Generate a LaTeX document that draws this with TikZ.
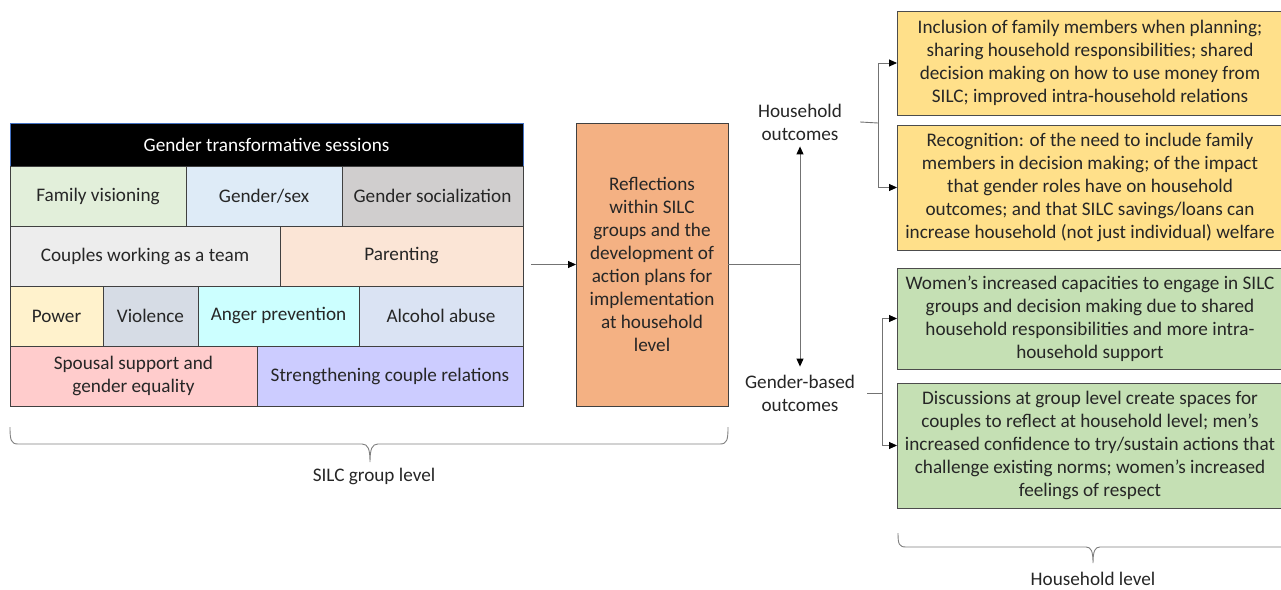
\documentclass[tikz,border=0pt]{standalone}
\usepackage{fontspec}
\setmainfont{Carlito}
\usetikzlibrary{arrows.meta}

\definecolor{famgreen}{HTML}{E2EFDA}
\definecolor{sexblue}{HTML}{DEEBF7}
\definecolor{socgray}{HTML}{D0CECE}
\definecolor{teamgray}{HTML}{EDEDED}
\definecolor{parpeach}{HTML}{FBE5D6}
\definecolor{powyellow}{HTML}{FFF2CC}
\definecolor{violgray}{HTML}{D6DCE5}
\definecolor{angcyan}{HTML}{CCFFFF}
\definecolor{alcblue}{HTML}{DAE3F3}
\definecolor{spopink}{HTML}{FFCCCC}
\definecolor{strlav}{HTML}{CCCCFF}
\definecolor{reforange}{HTML}{F4B183}
\definecolor{hhyellow}{HTML}{FFE08A}
\definecolor{gbgreen}{HTML}{C5E0B4}
\definecolor{headblue}{HTML}{4472C4}
\definecolor{inkgray}{HTML}{262626}

\begin{document}
\begin{tikzpicture}[x=1pt,y=-1pt,
  font=\fontsize{19.2}{23}\selectfont,
  >={Triangle[length=8pt,width=7pt,color=black]},
  cell/.style={draw=black!75, line width=0.8pt, anchor=north west, inner sep=0pt,
    outer sep=0pt, align=center, text=inkgray, minimum height=60pt},
  outbox/.style={draw=black!70, line width=1pt, anchor=north west, inner sep=0pt,
    outer sep=0pt, align=center, text=inkgray, minimum width=386pt},
  lab/.style={align=center, text=inkgray, inner sep=0pt},
  link/.style={draw=black!55, line width=0.9pt},
  lvl/.style={draw=black!50, line width=0.9pt}]
  \useasboundingbox (0,0) rectangle (1281,589);

  % session grid
  \node[cell, fill=black, draw=headblue, text=white, minimum width=513pt, minimum height=43pt]
    (head) at (10,123) {Gender transformative sessions};
  \node[cell, fill=famgreen, minimum width=176pt] (famvis) at (10,166) {Family visioning};
  \node[cell, fill=sexblue, minimum width=156pt] (gensex) at (186,166) {Gender/sex};
  \node[cell, fill=socgray, minimum width=181pt] (gensoc) at (342,166) {Gender socialization};
  \node[cell, fill=teamgray, minimum width=270pt] (team) at (10,226) {Couples working as a team};
  \node[cell, fill=parpeach, minimum width=243pt] (parent) at (280,226) {Parenting};
  \node[cell, fill=powyellow, minimum width=93pt] (power) at (10,286) {Power};
  \node[cell, fill=violgray, minimum width=95pt] (viol) at (103,286) {Violence};
  \node[cell, fill=angcyan, minimum width=161pt] (anger) at (198,286) {Anger prevention};
  \node[cell, fill=alcblue, minimum width=164pt] (alcohol) at (359,286) {Alcohol abuse};
  \node[cell, fill=spopink, minimum width=247pt] (spouse) at (10,346) {Spousal support and\\gender equality};
  \node[cell, fill=strlav, minimum width=266pt] (strength) at (257,346) {Strengthening couple relations};

  % reflections
  \node[cell, fill=reforange, line width=1pt, minimum width=152pt, minimum height=283pt] (refl) at (576,123)
    {Reflections\\within SILC\\groups and the\\development of\\action plans for\\implementation\\at household\\level};

  \node[lab, minimum width=120pt] (hhlab) at (800,122) {Household\\outcomes};
  \node[lab, minimum width=134pt] (gblab) at (800,393) {Gender-based\\outcomes};

  % outcome boxes
  \node[outbox, fill=hhyellow, minimum height=104pt] (hh1) at (897,11)
    {Inclusion of family members when planning;\\sharing household responsibilities; shared\\decision making on how to use money from\\SILC; improved intra-household relations};
  \node[outbox, fill=hhyellow, minimum height=125pt] (hh2) at (897,125)
    {Recognition: of the need to include family\\members in decision making; of the impact\\that gender roles have on household\\outcomes; and that SILC savings/loans can\\increase household (not just individual) welfare};
  \node[outbox, fill=gbgreen, minimum height=101pt] (gb1) at (897,268)
    {Women’s increased capacities to engage in SILC\\groups and decision making due to shared\\household responsibilities and more intra-\\household support};
  \node[outbox, fill=gbgreen, minimum height=125pt] (gb2) at (897,383)
    {Discussions at group level create spaces for\\couples to reflect at household level; men’s\\increased confidence to try/sustain actions that\\challenge existing norms; women’s increased\\feelings of respect};

  % connectors
  \coordinate (gout) at (531,264.5);
  \coordinate (split) at (800,264.5);
  \coordinate (hhfork) at (878,123);
  \coordinate (gbfork) at (882,393);
  \draw[link, ->] (gout) -- (refl.west);
  \draw[link] (refl.east) -- (split);
  \draw[link, <->] ([yshift=-6pt]hhlab.south) -- ([yshift=8pt]gblab.north);
  \draw[link] (hhlab.east) -- (hhfork);
  \draw[link, ->] (hhfork) |- (hh1.west);
  \draw[link, ->] (hhfork) |- (hh2.west);
  \draw[link] (gblab.east) -- (gbfork);
  \draw[link, ->] (gbfork) |- (gb1.west);
  \draw[link, ->] (gbfork) |- (gb2.west);

  % level braces
  \draw[lvl] (10,427) .. controls (10,440) and (11,444) .. (18,444) -- (362,444)
    .. controls (368,444) and (370,449) .. (370,462)
    .. controls (370,449) and (372,444) .. (378,444) -- (720,444)
    .. controls (727,444) and (728,440) .. (728,427);
  \node[lab] (silclvl) at (374,476) {SILC group level};
  \draw[lvl] (898,533) .. controls (898,544) and (899,547) .. (906,547) -- (1086,547)
    .. controls (1091,547) and (1093,551) .. (1093,563)
    .. controls (1093,551) and (1095,547) .. (1100,547) -- (1281,547);
  \node[lab] (hhlvl) at (1093,579) {Household level};
\end{tikzpicture}
\end{document}
